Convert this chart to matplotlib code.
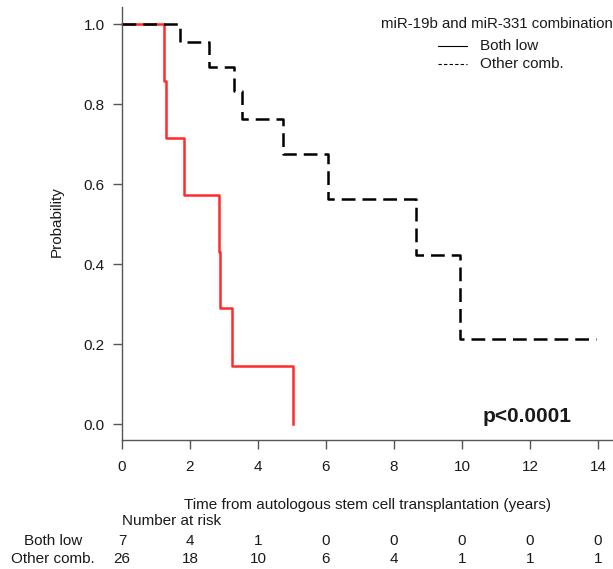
import numpy as np
import matplotlib
matplotlib.use("Agg")
from matplotlib import pyplot as plt
from matplotlib.lines import Line2D
from matplotlib.transforms import blended_transform_factory

plt.rcParams['font.family'] = ['Liberation Sans', 'DejaVu Sans']

# Kaplan-Meier steps
low_t = [0, 1.24, 1.29, 1.83, 2.86, 2.88, 3.24, 5.02]
low_s = [1.0, 0.858, 0.716, 0.572, 0.431, 0.289, 0.145, 0.0]

other_t = [0, 1.71, 2.56, 3.30, 3.54, 4.74, 6.07, 8.64, 9.94, 13.93]
other_s = [1.0, 0.955, 0.893, 0.833, 0.762, 0.675, 0.562, 0.422, 0.212, 0.212]

risk_times = [0, 2, 4, 6, 8, 10, 12, 14]
risk_low = [7, 4, 1, 0, 0, 0, 0, 0]
risk_other = [26, 18, 10, 6, 4, 1, 1, 1]
group_names = ["Both low", "Other comb."]

W, H = 613, 569
fig = plt.figure(figsize=(W / 100, H / 100), dpi=100)

# axes box in pixels: left 122, right 613, top 7, bottom 440
ax = fig.add_axes([122 / W, 1 - 440 / H, 1 - 122 / W, (440 - 7) / H])
ax.set_xlim(0, 491 / 34)
ax.set_ylim(-0.04, 1.0425)

txt = "#1a1a1a"
axc = "#555555"
for s in ["top", "right"]:
    ax.spines[s].set_visible(False)
for s in ["left", "bottom"]:
    ax.spines[s].set_color(axc)
    ax.spines[s].set_linewidth(1.0)

ax.set_xticks(risk_times)
ax.set_yticks([0, 0.2, 0.4, 0.6, 0.8, 1.0])
ax.set_yticklabels(["0.0", "0.2", "0.4", "0.6", "0.8", "1.0"])
ax.tick_params(axis="both", length=6.5, width=1.0, color=axc, labelcolor=txt, labelsize=11)
ax.tick_params(axis="x", pad=8)
ax.tick_params(axis="y", pad=6)

# curves: red first, dashed black drawn on top
ax.step(low_t, low_s, where="post", color="#ff2a2a", lw=1.8, clip_on=False)
ax.step(other_t, other_s, where="post", color="black", lw=1.8,
        linestyle=(0, (5.5, 2.8)), clip_on=False)

# axis labels
fig.text(57 / W, 1 - 222 / H, "Probability", rotation=90, ha="center", va="center",
         fontsize=11, color=txt)
fig.text(0.5 * (1 + 122 / W), 1 - 505 / H,
         "Time from autologous stem cell transplantation (years)",
         ha="center", va="center", fontsize=11, color=txt)

# legend drawn by hand (R style)
fig.text(381 / W, 1 - 24 / H, "miR-19b and miR-331 combination", ha="left", va="center",
         fontsize=10.8, color=txt)
fig.add_artist(Line2D([438 / W, 467 / W], [1 - 46 / H, 1 - 46 / H], color="black", lw=0.8))
fig.add_artist(Line2D([438 / W, 467 / W], [1 - 64 / H, 1 - 64 / H], color="black", lw=0.8,
                      linestyle=(0, (3, 2))))
fig.text(480 / W, 1 - 46 / H, group_names[0], ha="left", va="center", fontsize=11, color=txt)
fig.text(480 / W, 1 - 64 / H, group_names[1], ha="left", va="center", fontsize=11, color=txt)

# p value
fig.text(483 / W, 1 - 416 / H, "p<0.0001", ha="left", va="center", fontsize=15,
         fontweight="bold", color=txt)

# number at risk table
tr = blended_transform_factory(ax.transData, fig.transFigure)
ax.text(0, 1 - 521 / H, "Number at risk", transform=tr, ha="left", va="center",
        fontsize=11, color=txt, clip_on=False)
for row_y, name, counts in [(541, group_names[0], risk_low), (559, group_names[1], risk_other)]:
    fig.text(53 / W, 1 - row_y / H, name, ha="center", va="center", fontsize=11, color=txt)
    for t, n in zip(risk_times, counts):
        ax.text(t, 1 - row_y / H, str(n), transform=tr, ha="center", va="center",
                fontsize=11, color=txt, clip_on=False)

fig.savefig("out.png", dpi=100)
